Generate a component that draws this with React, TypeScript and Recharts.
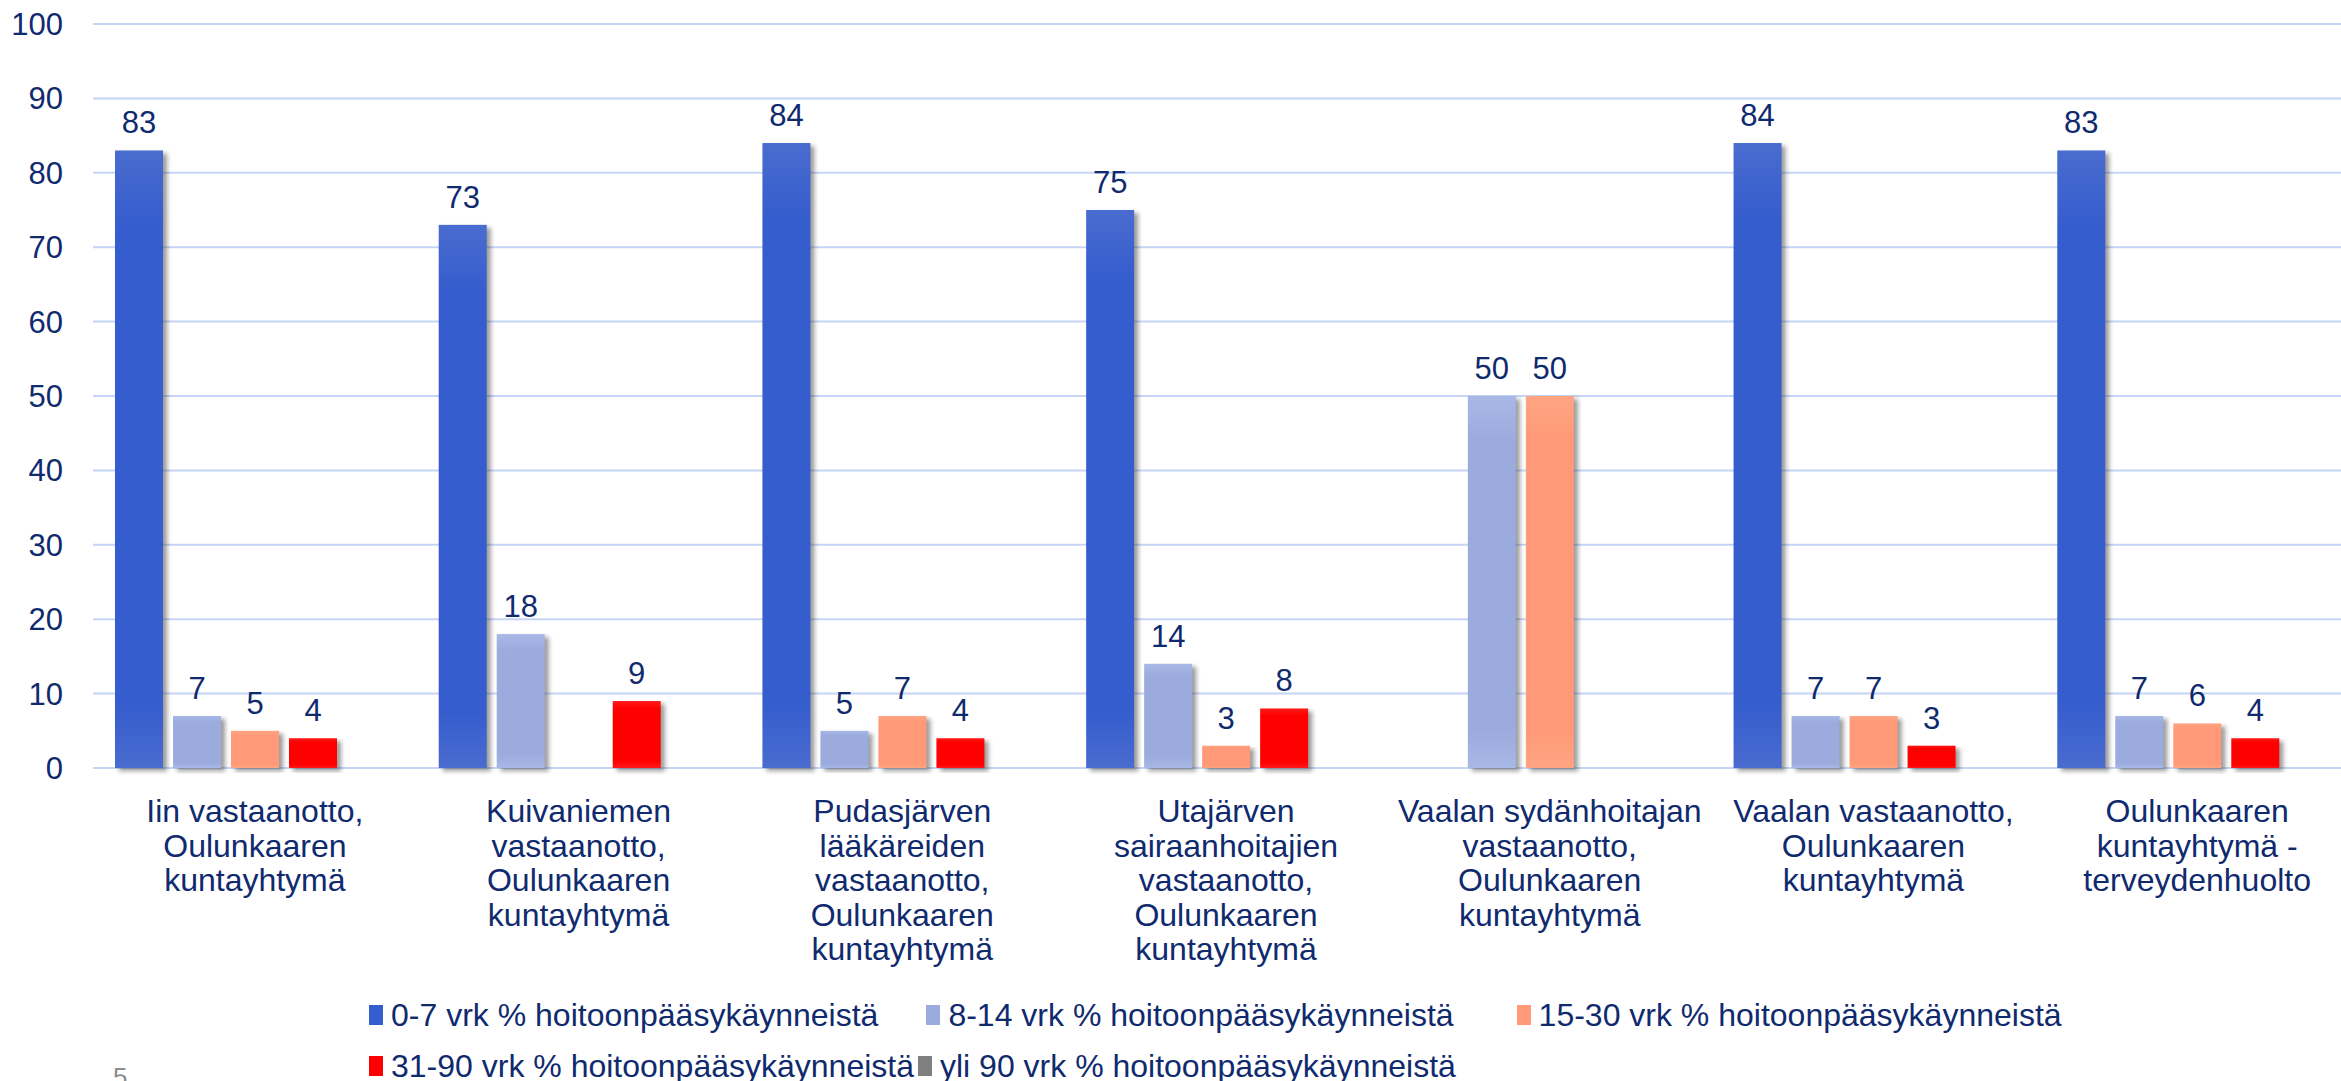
import type React from 'react';
import { BarChart, Bar, XAxis, YAxis, CartesianGrid, LabelList, Legend } from 'recharts';

const categories = [
  'Iin vastaanotto,\nOulunkaaren\nkuntayhtymä',
  'Kuivaniemen\nvastaanotto,\nOulunkaaren\nkuntayhtymä',
  'Pudasjärven\nlääkäreiden\nvastaanotto,\nOulunkaaren\nkuntayhtymä',
  'Utajärven\nsairaanhoitajien\nvastaanotto,\nOulunkaaren\nkuntayhtymä',
  'Vaalan sydänhoitajan\nvastaanotto,\nOulunkaaren\nkuntayhtymä',
  'Vaalan vastaanotto,\nOulunkaaren\nkuntayhtymä',
  'Oulunkaaren\nkuntayhtymä -\nterveydenhuolto',
];

const days0to7 = [83, 73, 84, 75, null, 84, 83];
const days8to14 = [7, 18, 5, 14, 50, 7, 7];
const days15to30 = [5, null, 7, 3, 50, 7, 6];
const days31to90 = [4, 9, 4, 8, null, 3, 4];
const daysOver90 = [null, null, null, null, null, null, null];

const yTicks = [0, 10, 20, 30, 40, 50, 60, 70, 80, 90, 100];

const series = [
  { key: 'a', name: '0-7 vrk % hoitoonpääsykäynneistä', values: days0to7, color: '#365DCE', light: '#4A6CCF' },
  { key: 'b', name: '8-14 vrk % hoitoonpääsykäynneistä', values: days8to14, color: '#9BABDD', light: '#A8B8E6' },
  { key: 'c', name: '15-30 vrk % hoitoonpääsykäynneistä', values: days15to30, color: '#FF9977', light: '#FFA582' },
  { key: 'd', name: '31-90 vrk % hoitoonpääsykäynneistä', values: days31to90, color: '#FF0000', light: '#FF1A1A' },
  { key: 'e', name: 'yli 90 vrk % hoitoonpääsykäynneistä', values: daysOver90, color: '#808080', light: '#8C8C8C' },
];

const data = categories.map((name, i) => {
  const row: Record<string, string | number | null> = { name };
  series.forEach((s) => {
    row[s.key] = s.values[i];
  });
  return row;
});

const NAVY = '#102A6E';
const FONT = '"Liberation Sans", Arial, sans-serif';

function CategoryTick({ x, y, payload }: any) {
  const lines: string[] = String(payload.value).split('\n');
  return (
    <text x={x} y={y} textAnchor='middle' fill={NAVY} fontSize={32} fontFamily={FONT}>
      {lines.map((line, i) => (
        <tspan key={i} x={x} y={y + 54 + i * 34.5}>
          {line}
        </tspan>
      ))}
    </text>
  );
}

function ShadowBar(props: any) {
  const { x, y, width, height, gradId } = props;
  if (!height || height <= 0) return <g />;
  return (
    <g>
      <rect x={x + 4} y={y + 3} width={width} height={height} fill='rgba(40,40,40,0.45)' filter='url(#barShadow)' />
      <rect x={x} y={y} width={width} height={height} fill={`url(#${gradId})`} />
    </g>
  );
}

// legend rows as in the original slide, with the spacing before each item
const legendRows = [
  { items: [0, 1, 2], gaps: [0, 48, 63] },
  { items: [3, 4], gaps: [0, 4] },
];

function LegendBox() {
  return (
    <div style={{ fontFamily: FONT, fontSize: 32, color: NAVY, lineHeight: '30px' }}>
      {legendRows.map((row, r) => (
        <div key={r} style={{ display: 'flex', whiteSpace: 'nowrap', marginBottom: r === 0 ? 21 : 0 }}>
          {row.items.map((idx, j) => (
            <div key={idx} style={{ display: 'flex', alignItems: 'center', marginLeft: row.gaps[j] }}>
              <span style={{ width: 14, height: 20, background: series[idx].color, marginRight: 8, display: 'inline-block' }} />
              <span>{series[idx].name}</span>
            </div>
          ))}
        </div>
      ))}
    </div>
  );
}

export default function App(): React.JSX.Element {
  return (
    <div style={{ position: 'absolute', left: 0, top: 0, width: 2341, height: 1081, overflow: 'hidden', background: '#fff' }}>
      <BarChart
        width={2359}
        height={1081}
        data={data}
        margin={{ top: 24, right: 0, left: 0, bottom: 0 }}
        barSize={48}
        barGap={10}
      >
        <defs>
          <filter id='barShadow' x='-20%' y='-5%' width='140%' height='110%'>
            <feGaussianBlur stdDeviation='2' />
          </filter>
          {series.map((s) => (
            <linearGradient key={s.key} id={`grad-${s.key}`} x1='0' y1='0' x2='0' y2='1'>
              <stop offset='0%' stopColor={s.light} />
              <stop offset='12%' stopColor={s.color} />
              <stop offset='90%' stopColor={s.color} />
              <stop offset='100%' stopColor={s.light} />
            </linearGradient>
          ))}
        </defs>
        <CartesianGrid vertical={false} stroke='#C6D5F6' strokeWidth={2} />
        <XAxis
          dataKey='name'
          axisLine={false}
          tickLine={false}
          tickSize={0}
          tickMargin={0}
          height={313}
          interval={0}
          tick={<CategoryTick />}
        />
        <YAxis
          domain={[0, 100]}
          ticks={yTicks}
          width={93}
          axisLine={false}
          tickLine={false}
          tickMargin={24}
          tick={{ fill: NAVY, fontSize: 31, fontFamily: FONT }}
        />
        <Legend
          layout='horizontal'
          verticalAlign='middle'
          content={() => <LegendBox />}
          wrapperStyle={{ left: 369, top: 1000, width: 1900, height: 81 }}
        />
        {series.map((s) => (
          <Bar
            key={s.key}
            dataKey={s.key}
            name={s.name}
            fill={s.color}
            isAnimationActive={false}
            shape={(p: any) => <ShadowBar {...p} gradId={`grad-${s.key}`} />}
          >
            <LabelList
              dataKey={s.key}
              position='top'
              offset={17}
              fill={NAVY}
              fontSize={31}
              fontFamily={FONT}
              formatter={(v: any) => (v === null || v === undefined ? '' : v)}
            />
          </Bar>
        ))}
      </BarChart>
      <div style={{ position: 'absolute', left: 113, top: 1062, fontFamily: FONT, fontSize: 26, color: '#8C8C8C' }}>5</div>
    </div>
  );
}
